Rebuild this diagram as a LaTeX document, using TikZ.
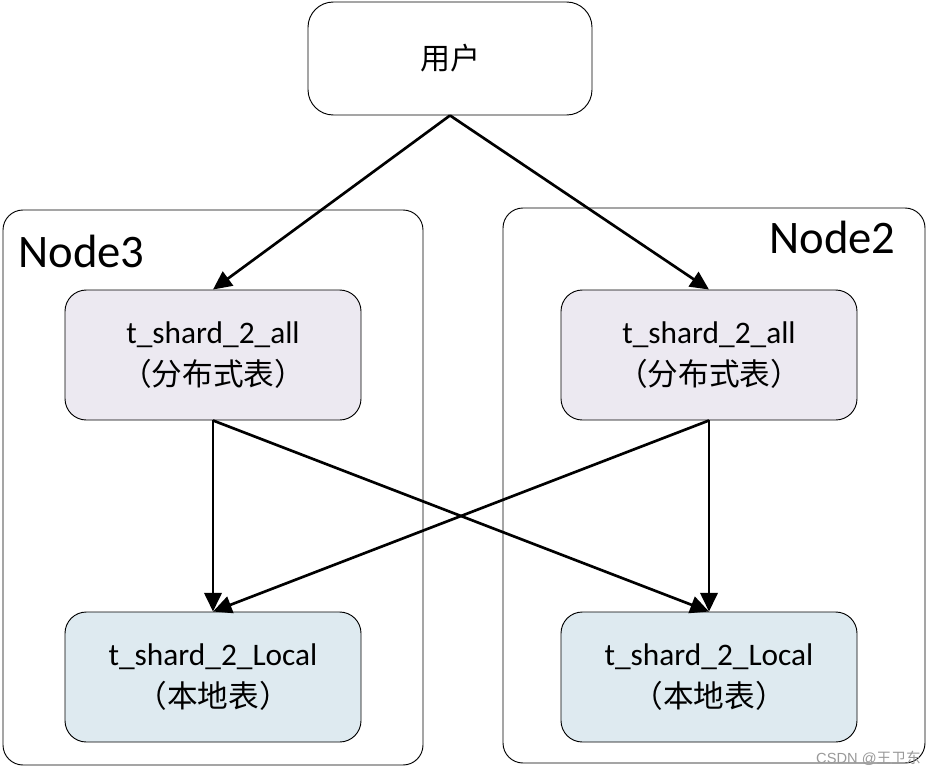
\documentclass[tikz,border=0pt]{standalone}
\usepackage{fontspec}
\setmainfont{Carlito}
\newfontfamily\cjk{Noto Sans CJK SC}
\newfontfamily\wmfont{Liberation Sans}
\usetikzlibrary{arrows.meta}
\definecolor{distfill}{RGB}{236,233,241}
\definecolor{localfill}{RGB}{222,234,240}
\tikzset{
  container/.style={draw=black, line width=0.7pt, rounded corners=15pt, inner sep=0pt},
  userbox/.style={draw=black, line width=0.7pt, rounded corners=19pt, fill=white, inner sep=0pt,
    minimum width=213pt, minimum height=84.75pt},
  tablebox/.style={draw=black, line width=0.7pt, rounded corners=16pt, inner sep=0pt,
    minimum width=222pt, minimum height=97.5pt, align=center,
    font=\fontsize{23.5}{31.5}\selectfont},
  distbox/.style={tablebox, fill=distfill},
  localbox/.style={tablebox, fill=localfill},
  flow/.style={line width=2pt, -{Triangle[length=14pt,width=13pt]}},
  nodelabel/.style={inner sep=0pt, anchor=base west, font=\fontsize{35}{40}\selectfont},
}
\newcommand{\cn}[1]{{\cjk\fontsize{23}{26}\selectfont #1}}
\begin{document}
\begin{tikzpicture}[x=0.75pt, y=-0.75pt]
\useasboundingbox (0,0) rectangle (934,774);
% containers
\node[container, minimum width=315pt, minimum height=416.25pt] (n3) at (213,487.5) {};
\node[container, minimum width=316.5pt, minimum height=416.25pt] (n2) at (714,485.5) {};
\node[nodelabel] (n3l) at (18,267) {Node3};
\node[nodelabel] (n2l) at (769,253) {Node2};
% user
\node[userbox] (u) at (450,58.5) {\cjk\fontsize{22.5}{26}\selectfont 用户};
% tables
\node[distbox] (a3) at (213,355) {t\_shard\_2\_all\\\cn{（分布式表）}};
\node[distbox] (a2) at (709,355) {t\_shard\_2\_all\\\cn{（分布式表）}};
\node[localbox] (b3) at (213,677) {t\_shard\_2\_Local\\\cn{（本地表）}};
\node[localbox] (b2) at (709,677) {t\_shard\_2\_Local\\\cn{（本地表）}};
% arrows
\draw[flow] (u.south) -- (a3.north);
\draw[flow] (u.south) -- (a2.north);
\draw[flow] (a3.south) -- (b3.north);
\draw[flow] (a2.south) -- (b2.north);
\draw[flow] (a3.south) -- (b2.north);
\draw[flow] (a2.south) -- (b3.north);
% watermark
\node[anchor=base east, inner sep=0pt, text=black!40, font=\wmfont\fontsize{11}{13}\selectfont] (wm) at (921,763) {CSDN @{\cjk 王卫东}};
\end{tikzpicture}
\end{document}
